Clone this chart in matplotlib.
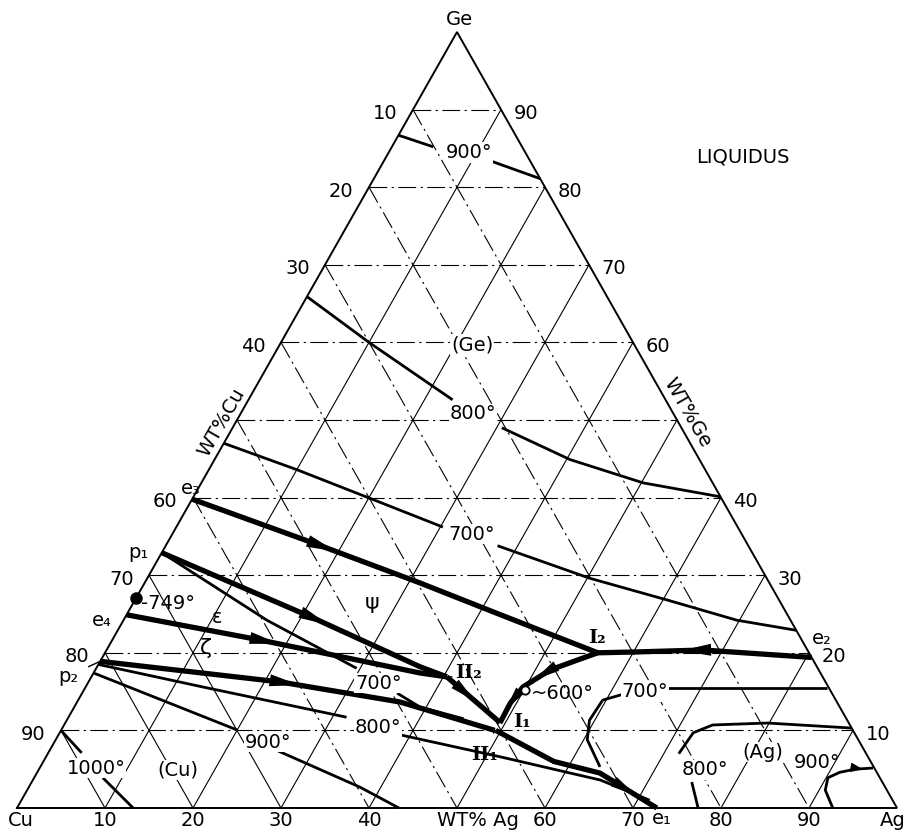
import numpy as np
import matplotlib.pyplot as plt
from matplotlib.patches import Polygon

plt.rcParams['font.family'] = ['DejaVu Sans']

# liquidus curves, points given as (wt% Ag, wt% Ge); Cu is the balance
iso900_top_a = [(0, 86.7), (4.7, 85.2)]
iso900_top_b = [(10.9, 83.8), (18.9, 81.1)]
iso800_up_a = [(0, 65.9), (10, 60.0), (23.2, 52.6)]
iso800_up_b = [(30.6, 49.0), (40.4, 44.9), (50.2, 41.9), (59.9, 40.1)]
iso700_up_a = [(0, 47.0), (10, 43.6), (19.9, 40.0), (30.3, 36.2)]
iso700_up_b = [(37.7, 33.8), (50.3, 29.6), (60.5, 26.8), (69.7, 24.2), (77.1, 22.9)]
iso700_low_a = [(0, 32.9), (16.3, 24.2), (29.6, 18.0)]
iso700_low_b = [(35.8, 14.8), (39.3, 13.0), (45.0, 11.5)]
iso800_low_a = [(0, 18.5), (13.3, 15.6), (31.6, 11.7)]
iso800_low_b = [(38.5, 9.5), (51.6, 6.6), (64.5, 3.6), (71.4, 1.0)]
iso900_low_a = [(0, 17.4), (20.0, 10.05)]
iso900_low_b = [(26.0, 7.35), (37.6, 2.7), (43.4, 0)]
iso1000_a = [(0, 10.0), (3.8, 7.1)]
iso1000_b = [(7.8, 3.9), (13.2, 0)]
iso700_ag_a = [(66.1, 15.5), (75.0, 15.5), (84.3, 15.5)]
iso700_ag_b = [(61.9, 14.8), (59.6, 13.9), (59.4, 11.3), (60.4, 8.8), (63.6, 5.3)]
iso800_ag_a = [(89.7, 10.3), (79.8, 10.95), (73.7, 10.7), (72.0, 9.7), (71.7, 7.0)]
iso800_ag_b = [(75.0, 3.35), (77.4, 0)]
iso900_ag = [(92.7, 0), (90.7, 2.3), (90.2, 3.9), (91.2, 4.6), (92.7, 5.0), (94.7, 5.15)]

# univariant valleys
uv_e3 = [(0, 39.8), (16.6, 34.15), (31.3, 29.0), (42.5, 24.9), (56.0, 20.0)]
uv_p1 = [(0, 32.9), (21.4, 24.5), (36.7, 18.2), (40.4, 16.9)]
uv_e4 = [(0, 24.9), (16.8, 21.65), (37.1, 17.4), (40.4, 16.9)]
uv_p2 = [(0, 18.9), (21.8, 16.24), (36.7, 13.66), (49.3, 10.0)]
uv_ii2 = [(40.4, 16.9), (49.4, 11.0)]
uv_i2 = [(56.0, 20.0), (55.0, 19.5), (51.7, 17.8), (49.7, 15.6), (49.3, 13.5), (49.4, 10.95)]
uv_e2 = [(80.6, 19.4), (67.8, 20.36), (59.95, 20.1), (56.0, 20.0)]
uv_e1 = [(49.4, 10.0), (58.0, 6.0), (64.0, 4.5), (72.7, 0)]

grid_steps = [10, 20, 30, 40, 50, 60, 70, 80, 90]
cu_ticks = ['10', '20', '30', '40', '', '60', '70', '80', '90']
ge_ticks = ['10', '20', '30', '40', '', '60', '70', '80', '90']
ag_ticks = ['10', '20', '30', '40', 'WT% Ag', '60', '70', '80', '90']


def tern(pts):
    pts = np.asarray(pts, dtype=float)
    ag, ge = pts[:, 0], pts[:, 1]
    return ag + ge / 2, ge


def pt(ag, ge):
    return ag + ge / 2, ge


fig = plt.figure(figsize=(9.08, 8.32), dpi=100)
ax = fig.add_axes([0, 0, 1, 1])
ax.set_xlim(-17 / 8.8, 891 / 8.8)
ax.set_ylim(-24 / 7.76, 808 / 7.76)
ax.axis('off')

# grid: constant Ge, constant Ag, constant Cu
dashdot = (0, (16, 4, 2, 4))
for g in grid_steps:
    ax.plot(*tern([(0, g), (100 - g, g)]), color='k', lw=0.8, ls=dashdot)
    ax.plot(*tern([(g, 0), (g, 100 - g)]), color='k', lw=0.8)
    cu_style = '-' if g <= 30 else dashdot
    ax.plot(*tern([(0, g), (g, 0)]), color='k', lw=0.8, ls=cu_style)

# triangle frame
ax.plot(*tern([(0, 0), (100, 0), (0, 100), (0, 0)]), color='k', lw=1.4,
        solid_joinstyle='miter')

for curve in [iso900_top_a, iso900_top_b, iso800_up_a, iso800_up_b, iso700_up_a,
              iso700_up_b, iso700_low_a, iso700_low_b, iso800_low_a, iso800_low_b,
              iso900_low_a, iso900_low_b, iso1000_a, iso1000_b, iso700_ag_a,
              iso700_ag_b, iso800_ag_a, iso800_ag_b, iso900_ag]:
    ax.plot(*tern(curve), color='k', lw=2.0, solid_capstyle='butt')

for curve in [uv_e3, uv_p1, uv_e4, uv_p2, uv_ii2, uv_i2, uv_e2, uv_e1]:
    ax.plot(*tern(curve), color='k', lw=3.8, solid_capstyle='butt',
            solid_joinstyle='round')


def arrow_on(curve, value, key=0, length=30, width=12):
    """Arrowhead centred where the curve reaches the given Ag (key 0) or Ge (key 1)."""
    c = np.asarray(curve, dtype=float)
    v = c[:, key]
    for i in range(len(c) - 1):
        lo, hi = sorted((v[i], v[i + 1]))
        if lo <= value <= hi and hi > lo:
            break
    t = (value - v[i]) / (v[i + 1] - v[i])
    x, y = tern(c)
    d = ax.transData.transform(np.column_stack([x, y]))
    p = d[i] + t * (d[i + 1] - d[i])
    u = (d[i + 1] - d[i]) / np.hypot(*(d[i + 1] - d[i]))
    n = np.array([-u[1], u[0]])
    tri = [p + u * length / 2, p - u * length / 2 + n * width / 2,
           p - u * length / 2 - n * width / 2]
    tri = ax.transData.inverted().transform(np.array(tri))
    ax.add_patch(Polygon(tri, closed=True, color='k', lw=0))


arrow_on(uv_e3, 17.8)
arrow_on(uv_p1, 21.6)
arrow_on(uv_e4, 17.4)
arrow_on(uv_p2, 22.35)
arrow_on(uv_e2, 67.0)
arrow_on(uv_ii2, 43.45, length=26, width=11)
arrow_on(uv_i2, 17.4, key=1, length=26, width=11)
arrow_on(uv_i2, 14.0, key=1, length=22, width=10)
arrow_on(uv_e1, 67.8, length=26, width=11)

fs = 14
# edge tick labels
for g, lab in zip(grid_steps, cu_ticks):
    if lab:
        ax.annotate(lab, pt(0, 100 - g), xytext=(-11, -3), textcoords='offset points',
                    ha='right', va='center', fontsize=fs)
for g, lab in zip(grid_steps, ge_ticks):
    if lab:
        ax.annotate(lab, pt(100 - g, g), xytext=(9, -3), textcoords='offset points',
                    ha='left', va='center', fontsize=fs)
for g, lab in zip(grid_steps, ag_ticks):
    ax.annotate(lab, pt(g, 0), xytext=(0 if g != 50 else 15, -9),
                textcoords='offset points', ha='center', va='center', fontsize=fs)

ax.annotate('Cu', pt(0, 0), xytext=(3, -9), textcoords='offset points',
            ha='center', va='center', fontsize=fs)
ax.annotate('Ag', pt(100, 0), xytext=(-3, -9), textcoords='offset points',
            ha='center', va='center', fontsize=fs)
ax.annotate('Ge', pt(0, 100), xytext=(2, 9), textcoords='offset points',
            ha='center', va='center', fontsize=fs)

ax.text(*pt(-1.6, 49.7), 'WT%Cu', rotation=60, ha='center', va='center', fontsize=fs)
ax.text(*pt(50.7, 50.9), 'WT%Ge', rotation=-60, ha='center', va='center', fontsize=fs)
ax.text(*pt(40.55, 83.9), 'LIQUIDUS', ha='center', va='center', fontsize=fs)

white = dict(facecolor='white', edgecolor='none', pad=0.5)
labels = [
    (9.1, 84.5, '900°'), (26.4, 50.8, '800°'), (34.05, 35.3, '700°'),
    (21.9, 59.7, '(Ge)'), (33.0, 16.1, '700°'), (35.8, 10.4, '800°'),
    (24.3, 8.5, '900°'), (6.4, 5.15, '1000°'), (15.85, 4.9, '(Cu)'),
    (81.1, 7.2, '(Ag)'), (75.7, 4.9, '800°'), (63.9, 14.95, '700°'),
]
for ag, ge, s in labels:
    ax.text(*pt(ag, ge), s, ha='center', va='center', fontsize=fs, bbox=white)

ax.annotate('900°', pt(93.6, 5.0), xytext=pt(88.0, 5.9), ha='center', va='center',
            fontsize=fs, arrowprops=dict(arrowstyle='-|>,head_length=0.5,head_width=0.2',
                                         color='k', lw=1.0, shrinkA=12, shrinkB=0))

ax.text(*pt(27.1, 26.4), 'ψ', ha='center', va='center', fontsize=fs + 2)
ax.text(*pt(10.4, 24.6), 'ε', ha='center', va='center', fontsize=fs)
ax.text(*pt(11.2, 20.6), 'ζ', ha='center', va='center', fontsize=fs + 2)

# 749 degree point on the Cu-Ge edge and the ~600 degree marker
ax.plot(*pt(0, 27.1), 'o', color='k', ms=8)
ax.text(*pt(0.9, 26.4), '-749°', ha='left', va='center', fontsize=fs)
ax.plot(*pt(50.1, 15.2), 'o', mfc='white', mec='k', ms=6, mew=1.3)
ax.text(*pt(51.0, 14.8), '~600°', ha='left', va='center', fontsize=fs)

# invariant points
for ag, ge, s in [(-0.9, 41.2, 'e₃'), (-2.7, 32.9, 'p₁'), (-2.4, 24.1, 'e₄'),
                  (80.5, 21.9, 'e₂'), (73.9, -1.3, 'e₁')]:
    ax.text(*pt(ag, ge), s, ha='center', va='center', fontsize=fs)
ax.annotate('p₂', pt(0, 18.9), xytext=pt(-2.7, 17.0), ha='center', va='center',
            fontsize=fs, arrowprops=dict(arrowstyle='-', lw=1.0, shrinkA=6, shrinkB=0))

roman = dict(ha='center', va='center', fontsize=fs, family='DejaVu Serif',
             fontweight='bold')
ax.text(*pt(55.0, 21.9), 'I₂', **roman)
ax.text(*pt(51.8, 11.1), 'I₁', **roman)
ax.annotate('II₂', pt(40.6, 16.8), xytext=pt(42.55, 17.4), arrowprops=dict(
    arrowstyle='-', lw=1.0, shrinkA=8, shrinkB=0), **roman)
ax.annotate('II₁', pt(49.3, 10.0), xytext=pt(49.7, 6.8), arrowprops=dict(
    arrowstyle='-', lw=1.0, shrinkA=8, shrinkB=0), **roman)

fig.savefig('out.png', dpi=100)
